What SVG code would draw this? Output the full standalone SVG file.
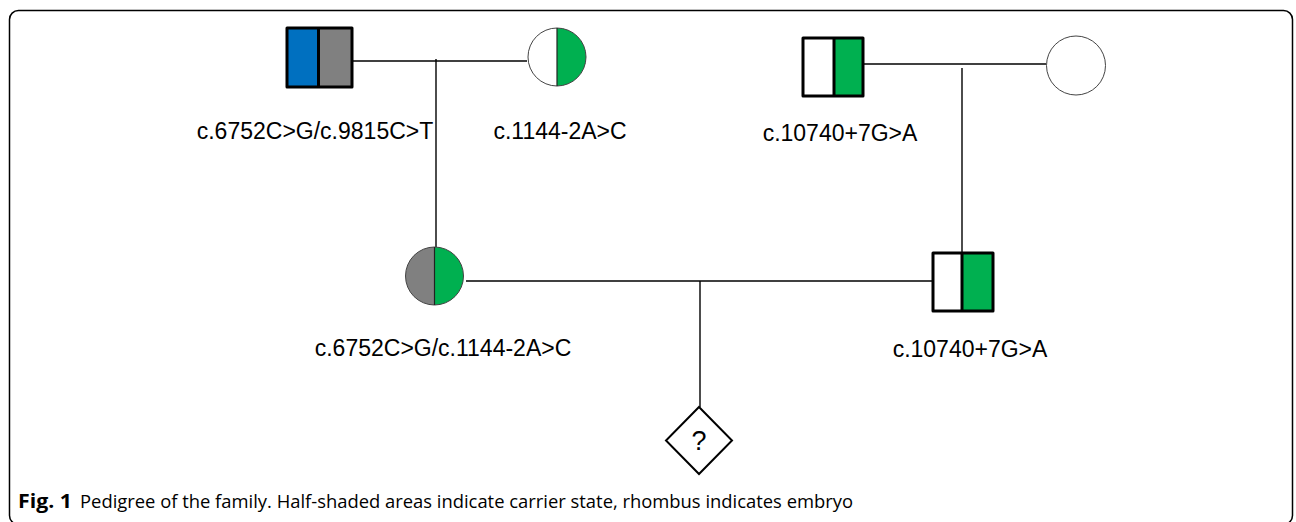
<svg xmlns="http://www.w3.org/2000/svg" width="1296" height="522" viewBox="0 0 1296 522">
<style>
.sq{stroke:#000;stroke-width:3;stroke-linejoin:round}
.ci{stroke:#444;stroke-width:1}
.dv{stroke:#222;stroke-width:1.2}
.ln{stroke:#000;stroke-width:1.4;fill:none}
.lbl{font-family:"Liberation Sans",Arial,sans-serif;font-size:23px;fill:#000;text-anchor:middle}
.cap{font-family:"Open Sans","Liberation Sans",sans-serif;font-size:19px;fill:#000}
</style>
<rect x="9.5" y="10.5" width="1283" height="514" rx="9" fill="#fff" stroke="#000" stroke-width="1.5"/>
<g id="connectors">
<line class="ln" x1="352" y1="61" x2="527" y2="61"/>
<line class="ln" x1="436" y1="59" x2="436" y2="247"/>
<line class="ln" x1="863" y1="64" x2="1046" y2="64"/>
<line class="ln" x1="962" y1="68" x2="962" y2="253"/>
<line class="ln" x1="466" y1="281" x2="933" y2="281"/>
<line class="ln" x1="700" y1="281" x2="700" y2="407"/>
</g>
<g id="father1">
<rect x="287" y="28" width="32" height="59" fill="#0070C0"/>
<rect x="319" y="28" width="33" height="59" fill="#808080"/>
<line x1="318.5" y1="28" x2="318.5" y2="87" stroke="#000" stroke-width="3"/>
<rect class="sq" x="287" y="28" width="65" height="59" fill="none"/>
<text class="lbl" x="315" y="139">c.6752C&gt;G/c.9815C&gt;T</text>
</g>
<g id="mother1">
<path d="M557,28 A29,29 0 0 1 557,86 Z" fill="#00B050"/>
<path d="M557,28 A29,29 0 0 0 557,86 Z" fill="#fff"/>
<circle class="ci" cx="557" cy="57" r="29" fill="none"/>
<line class="dv" x1="557" y1="28" x2="557" y2="86"/>
<text class="lbl" x="560" y="139">c.1144-2A&gt;C</text>
</g>
<g id="father2">
<rect x="803" y="38" width="31" height="58" fill="#fff"/>
<rect x="834" y="38" width="29" height="58" fill="#00B050"/>
<line x1="834" y1="38" x2="834" y2="96" stroke="#000" stroke-width="3"/>
<rect class="sq" x="803" y="38" width="60" height="58" fill="none"/>
<text class="lbl" x="840" y="141">c.10740+7G&gt;A</text>
</g>
<g id="mother2">
<circle class="ci" cx="1076" cy="65.5" r="29.5" fill="#fff"/>
</g>
<g id="daughter">
<path d="M434.5,247 A29,29 0 0 1 434.5,305 Z" fill="#00B050"/>
<path d="M434.5,247 A29,29 0 0 0 434.5,305 Z" fill="#808080"/>
<circle class="ci" cx="434.5" cy="276" r="29" fill="none"/>
<line class="dv" x1="434.5" y1="247" x2="434.5" y2="305"/>
<text class="lbl" x="443" y="356">c.6752C&gt;G/c.1144-2A&gt;C</text>
</g>
<g id="son">
<rect x="933" y="253" width="29" height="58" fill="#fff"/>
<rect x="962" y="253" width="31" height="58" fill="#00B050"/>
<line x1="962" y1="253" x2="962" y2="311" stroke="#000" stroke-width="3"/>
<rect class="sq" x="933" y="253" width="60" height="58" fill="none"/>
<text class="lbl" x="970" y="357">c.10740+7G&gt;A</text>
</g>
<g id="embryo">
<polygon points="699,407 732,440.5 699,474 666,440.5" fill="#fff" stroke="#000" stroke-width="2"/>
<text class="lbl" x="699" y="450" style="font-size:27px">?</text>
</g>
<text class="cap" x="18" y="508" font-weight="bold" textLength="54" lengthAdjust="spacingAndGlyphs">Fig. 1</text>
<text class="cap" x="80" y="508" textLength="773" lengthAdjust="spacingAndGlyphs">Pedigree of the family. Half-shaded areas indicate carrier state, rhombus indicates embryo</text>
</svg>
